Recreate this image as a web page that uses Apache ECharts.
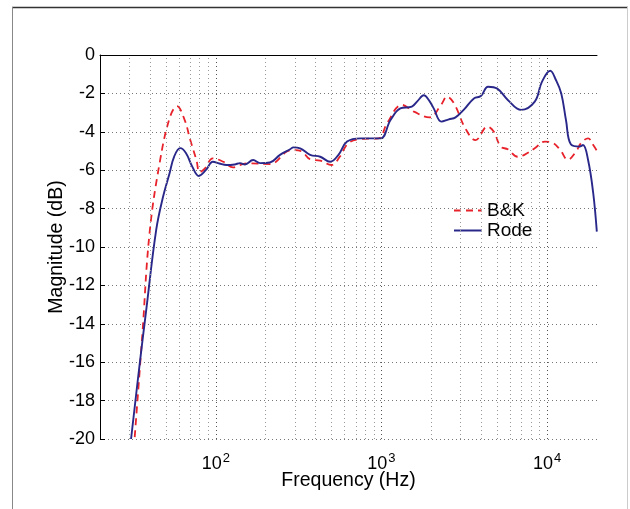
<!DOCTYPE html>
<html>
<head>
<meta charset="utf-8">
<script src="https://cdn.jsdelivr.net/npm/echarts@6/dist/echarts.min.js"></script>
<style>
html, body { margin: 0; padding: 0; background: #fff; }
#chart { width: 630px; height: 509px; }
</style>
</head>
<body>
<div id="chart"></div>
<script>
// frequency response
const rodeFreq = [30.8, 34.6, 38, 43.7, 48, 52.6, 56, 61, 66, 72, 79, 87, 96, 105, 116, 130, 140, 150, 168, 185, 212, 244, 281, 294, 323, 371, 427, 490, 550, 620, 746, 860, 990, 1134, 1300, 1525, 1650, 1800, 1950, 2067, 2300, 2550, 2800, 3155, 3615, 3980, 4400, 5000, 5790, 6960, 8420, 9300, 10440, 11300, 12170, 13000, 13900, 15690, 16460, 17670, 18980, 19950];
const rodeDb = [-20, -16.2, -13.3, -9.1, -7.4, -6.16, -5.3, -4.85, -5.1, -5.8, -6.3, -6.0, -5.56, -5.65, -5.73, -5.7, -5.63, -5.7, -5.47, -5.63, -5.6, -5.2, -4.91, -4.81, -4.86, -5.2, -5.3, -5.56, -5.2, -4.51, -4.34, -4.34, -4.34, -3.39, -2.78, -2.69, -2.4, -2.1, -2.4, -2.78, -3.47, -3.35, -3.25, -2.83, -2.26, -2.14, -1.65, -1.75, -2.34, -2.86, -2.43, -1.4, -0.82, -1.3, -2.0, -3.4, -4.65, -4.77, -4.69, -5.47, -7.2, -9.2];

const bkFreq = [32.4, 36, 39.8, 45.8, 52.6, 58.3, 64.9, 70, 76.4, 80, 86, 96, 111, 127, 153, 212, 268, 293, 331, 371, 427, 500, 560, 630, 746, 961, 1080, 1330, 1570, 1950, 2290, 2490, 2740, 3220, 3700, 4360, 4770, 5240, 5790, 6640, 7290, 8420, 9690, 10800, 12000, 13330, 14940, 16000, 17670, 18980, 20000];
const bkDb = [-19.9, -14.6, -9.3, -5.63, -3.3, -2.66, -3.39, -4.4, -5.47, -6.1, -5.9, -5.38, -5.56, -5.85, -5.64, -5.68, -5.03, -4.95, -5.03, -5.43, -5.5, -5.73, -5.3, -4.6, -4.38, -4.34, -3.56, -2.6, -2.95, -3.25, -2.6, -2.17, -2.52, -3.85, -4.43, -3.73, -4.0, -4.77, -4.91, -5.3, -5.2, -4.86, -4.51, -4.57, -4.95, -5.45, -5.03, -4.6, -4.34, -4.69, -5.0];

const majorX = [100, 1000, 10000];
const minorX = [30, 40, 50, 60, 70, 80, 90, 200, 300, 400, 500, 600, 700, 800, 900, 2000, 3000, 4000, 5000, 6000, 7000, 8000, 9000];

const font = 'Liberation Sans';
const chart = echarts.init(document.getElementById('chart'));

function pairs(xs, ys) {
  return xs.map((x, i) => [x, ys[i]]);
}

let gridLine = (vals, color) => ({
  silent: true,
  symbol: 'none',
  label: { show: false },
  lineStyle: { color: color, type: [1, 3], width: 1 },
  data: vals.map(v => ({ xAxis: v }))
});

let option = {
  animation: false,
  textStyle: { fontFamily: font },
  graphic: [
    { type: 'line', shape: { x1: 12, y1: 7.5, x2: 628, y2: 7.5 }, style: { stroke: '#333', lineWidth: 1.5 } },
    { type: 'line', shape: { x1: 12.5, y1: 7, x2: 12.5, y2: 509 }, style: { stroke: '#888', lineWidth: 1 } },
    { type: 'line', shape: { x1: 627.5, y1: 7, x2: 627.5, y2: 509 }, style: { stroke: '#ccc', lineWidth: 1 } }
  ],
  grid: { left: 100, right: 33, top: 55, bottom: 70 },
  legend: {
    orient: 'vertical',
    left: 448,
    top: 196,
    itemWidth: 28,
    itemHeight: 14,
    itemGap: 1,
    itemStyle: { opacity: 0 },
    textStyle: { fontFamily: font, fontSize: 19, color: '#000' },
    data: ['B&K', 'Rode']
  },
  xAxis: {
    type: 'log',
    logBase: 10,
    min: 20,
    max: 20000,
    name: 'Frequency (Hz)',
    nameLocation: 'middle',
    nameGap: 32,
    nameMoveOverlap: false,
    nameTextStyle: { fontFamily: font, fontSize: 19.5, color: '#000' },
    axisLine: { lineStyle: { color: '#000', width: 1 } },
    axisTick: { show: false },
    splitLine: { show: false },
    axisLabel: {
      margin: 13,
      color: '#000',
      fontFamily: font,
      fontSize: 18,
      formatter: function (v) {
        const e = Math.round(Math.log10(v));
        if (Math.abs(Math.pow(10, e) - v) / v > 1e-6 || e < 2 || e > 4) return '';
        return '10{s|' + e + '}';
      },
      rich: {
        s: { fontSize: 13, fontFamily: font, color: '#000', verticalAlign: 'bottom', padding: [0, 0, 12, 1] }
      }
    }
  },
  yAxis: {
    type: 'value',
    min: -20,
    max: 0,
    interval: 2,
    name: 'Magnitude (dB)',
    nameLocation: 'middle',
    nameGap: 33,
    nameMoveOverlap: false,
    nameTextStyle: { fontFamily: font, fontSize: 19.5, color: '#000' },
    axisLine: { show: true, lineStyle: { color: '#000', width: 1 } },
    axisTick: { show: true, inside: true, length: 5, lineStyle: { color: '#000' } },
    axisLabel: { color: '#000', fontFamily: font, fontSize: 18, margin: 5 },
    splitLine: { show: true, lineStyle: { color: '#777', type: [1, 3], width: 1 } }
  },
  series: [
    {
      name: 'B&K',
      type: 'line',
      symbol: 'none',
      smooth: 0.4,
      data: pairs(bkFreq, bkDb),
      lineStyle: { color: '#e8222b', width: 1.8, type: [7, 5] },
      itemStyle: { color: '#e8222b' },
      z: 3
    },
    {
      name: 'Rode',
      type: 'line',
      symbol: 'none',
      smooth: 0.4,
      data: pairs(rodeFreq, rodeDb),
      lineStyle: { color: '#29288a', width: 1.9 },
      itemStyle: { color: '#29288a' },
      z: 4
    },
    {
      name: 'grid-minor',
      type: 'line',
      data: [],
      markLine: gridLine(minorX, '#999'),
      z: 1
    },
    {
      name: 'grid-major',
      type: 'line',
      data: [],
      markLine: gridLine(majorX, '#555'),
      z: 1
    }
  ]
};
chart.setOption(option);
</script>
</body>
</html>
